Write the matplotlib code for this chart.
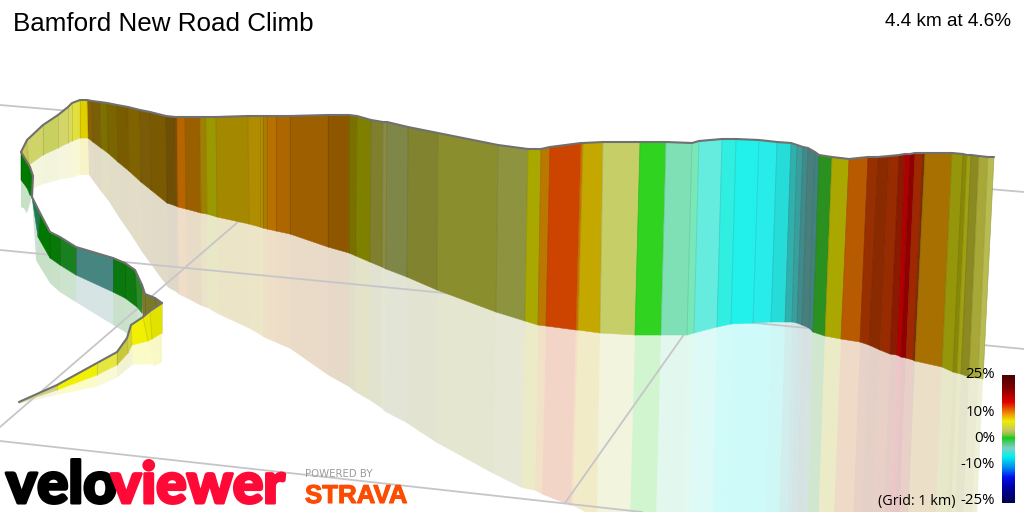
#!/usr/bin/env python3
import numpy as np
import matplotlib
matplotlib.use('Agg')
import matplotlib.pyplot as plt
from matplotlib.colors import LinearSegmentedColormap
from matplotlib.patches import Polygon
import matplotlib.patheffects as pe

WIDTH, HEIGHT = 1024, 512

TITLE = 'Bamford New Road Climb'
SUMMARY = '4.4 km at 4.6%'

# Ribbon sections, listed as wall edges: top of the wall and foot of the wall
main_xt = [87, 92, 100, 107, 117, 128, 140, 150, 166, 175, 177, 185, 200, 206, 216, 248, 260, 263, 267, 276,
           290, 328, 349, 357, 371, 383, 387, 408, 438, 498, 528, 541, 550, 581, 583, 603, 640, 666, 692, 699,
           722, 736, 759, 777, 791, 797, 803, 808, 815, 819, 832, 849, 868, 878, 889, 899, 905, 910, 915, 923,
           925, 952, 963, 967, 971, 979, 988, 994]
main_yt = [100, 101, 102, 103, 105, 107, 110, 112, 116, 117, 117, 117, 117, 117, 117, 116, 116, 116, 116, 116,
           116, 115, 115, 116, 120, 122, 122, 127, 133, 145, 149, 149, 147, 143, 143, 142, 142, 142, 143, 141,
           139, 139, 140, 142, 143, 145, 147, 148, 152, 155, 157, 159, 157, 157, 156, 155, 154, 154, 153, 153,
           153, 153, 154, 155, 155, 156, 157, 157]
main_xb = [88, 93, 101, 108, 118, 129, 141, 151, 167, 176, 178, 186, 201, 207, 217, 249, 260, 263, 267, 276,
           290, 328, 349, 356, 370, 382, 386, 407, 437, 496, 525, 538, 546, 576, 578, 600, 635, 661, 687, 694,
           717, 731, 753, 771, 785, 792, 797, 802, 809, 813, 825, 841, 860, 869, 880, 890, 897, 901, 906, 913,
           915, 942, 953, 957, 961, 969, 978, 983]
main_yb = [138, 142, 148, 153, 162, 171, 182, 190, 203, 206, 207, 209, 213, 214, 217, 224, 227, 228, 229, 231,
           234, 247, 253, 256, 262, 267, 269, 277, 290, 312, 321, 325, 326, 330, 330, 333, 335, 335, 335, 333,
           327, 324, 323, 322, 322, 322, 323, 325, 328, 332, 336, 339, 342, 345, 350, 354, 355, 357, 358, 360,
           361, 367, 372, 373, 374, 377, 378, 379]
main_colors = ['#8a6000', '#7a5e08', '#7e7000', '#7a6500', '#7a5c00', '#806200', '#7a5c08', '#7a5a00', '#6e4f05',
               '#805000', '#b86500', '#9a6000', '#a08000', '#9a9a00', '#a48800', '#b08c00', '#b09000', '#aa7c00',
               '#b87000', '#ad6600', '#9e5f00', '#8f5600', '#7a7000', '#808000', '#7f7f2e', '#8b8b3f', '#7f8748',
               '#82832f', '#8b8e2c', '#8e9340', '#a8a800', '#bb7800', '#cc4400', '#d07000', '#c4a800', '#c6ce68',
               '#30d420', '#7fe0b5', '#78e8b8', '#66ecdf', '#30eee0', '#22f0ea', '#28ecea', '#25dcd8', '#30b0ac',
               '#389f9c', '#3f8a8a', '#487f7d', '#41827f', '#2a9020', '#aaa800', '#b85a00', '#982f00', '#8a2a00',
               '#982c00', '#8a1a00', '#b00000', '#900000', '#a02800', '#7a3000', '#a87000', '#96960a', '#888808',
               '#a0a010', '#8a8a20', '#a8a838', '#b8bc50']

shoulder_xt = [21, 27, 43, 58, 68, 72, 80, 87]
shoulder_yt = [152, 140, 125, 115, 107, 103, 100, 100]
shoulder_xb = [21, 29, 43, 58, 68, 72, 80, 88]
shoulder_yb = [152, 165, 155, 148, 143, 141, 138, 138]
shoulder_colors = ['#c8c850', '#d0d468', '#c8d060', '#d2d668', '#d8d860', '#e0e040', '#e0d000']

corner_xt = [21, 30, 33, 32]
corner_yt = [152, 167, 176, 197]
corner_xb = [21, 27, 30, 32]
corner_yb = [180, 188, 195, 197]
corner_colors = ['#007a00', '#007a00', '#107a20']

long_xt = [142, 135, 125, 113, 76, 60, 50, 40, 32]
long_yt = [285, 270, 263, 258, 247, 237, 232, 213, 197]
long_xb = [142, 137, 125, 113, 76, 60, 50, 38, 32]
long_yb = [313, 307, 298, 292, 275, 265, 258, 237, 197]
long_colors = ['#2a8a2a', '#0e7a10', '#0a780e', '#478580', '#1a801f', '#087808', '#007800', '#207a50']

kink_xt = [142, 145, 155, 162]
kink_yt = [285, 294, 298, 303]
kink_xb = [143, 145, 155, 162]
kink_yb = [317, 315, 309, 304]
kink_colors = ['#7a7a2a', '#7a7a2a', '#7a7a2a']

lead_xt = [19, 57, 97, 117, 127, 131, 143, 150, 162]
lead_yt = [402, 385, 363, 352, 338, 325, 317, 311, 303]
lead_xb = [19, 57, 97, 117, 128, 132, 148, 152, 162]
lead_yb = [403, 390, 375, 365, 353, 345, 341, 339, 333]
lead_colors = ['#d0d080', '#f0f000', '#e6e640', '#c8c83a', '#d0d040', '#f0f000', '#e8e800', '#e2e200']

# Ground grid lines as (x0, y0, x1, y1)
grid_x0 = [0, 0, 0, 0, 565]
grid_y0 = [105, 250, 441, 427, 503]
grid_x1 = [1024, 1024, 642, 260, 690]
grid_y1 = [192, 349, 512, 203, 326]

# Gradient legend
scale_labels = ['25%', '10%', '0%', '-10%', '-25%']
scale_label_y = [374, 413, 438, 464, 501]
scale_pos = [0.0, 0.10, 0.21, 0.27, 0.30, 0.36, 0.43, 0.47, 0.49, 0.53, 0.57, 0.64, 0.72, 0.80, 0.88, 1.0]
scale_colors = ['#4a0000', '#800000', '#e00000', '#e86000', '#f09000', '#eeee00', '#c8c860', '#80c040',
                '#10d010', '#50c880', '#80d0c0', '#00f0f0', '#0090f0', '#0010f0', '#0000a0', '#000050']


def reflection_ratio(x):
    # the ground falls away under the far end of the climb, so the mirrored wall runs longer there
    if x > 690:
        return 1.1
    if 530 < x < 600:
        return 0.94
    return 0.97


def draw_reflection(ax, xt, yt, xb, yb, colors):
    for i, c in enumerate(colors):
        pts = []
        for j in (i, i + 1):
            pts.append((xb[j], yb[j]))
        for j in (i + 1, i):
            # mirror the wall height below its foot
            pts.append((2 * xb[j] - xt[j], yb[j] + reflection_ratio(xt[j]) * (yb[j] - yt[j])))
        ax.add_patch(Polygon(pts, closed=True, facecolor=c, edgecolor='none', alpha=0.22, zorder=2))


def draw_wall(ax, xt, yt, xb, yb, colors, zorder=3):
    for i, c in enumerate(colors):
        pts = [(xt[i], yt[i]), (xt[i + 1], yt[i + 1]), (xb[i + 1], yb[i + 1]), (xb[i], yb[i])]
        ax.add_patch(Polygon(pts, closed=True, facecolor=c, edgecolor=c, linewidth=0.4, zorder=zorder))
    for i in range(len(xt)):
        ax.plot([xt[i], xb[i]], [yt[i], yb[i]], color='black', alpha=0.1, linewidth=0.7, zorder=zorder + 0.1)
    ax.plot(xt, yt, color='#707070', linewidth=1.5, solid_capstyle='round', zorder=zorder + 0.2)


def main():
    plt.rcParams['font.family'] = ['Liberation Sans', 'DejaVu Sans']
    fig = plt.figure(figsize=(WIDTH / 100, HEIGHT / 100), dpi=100)
    ax = fig.add_axes([0, 0, 1, 1])
    ax.set_xlim(0, WIDTH)
    ax.set_ylim(HEIGHT, 0)
    ax.axis('off')

    for x0, y0, x1, y1 in zip(grid_x0, grid_y0, grid_x1, grid_y1):
        ax.plot([x0, x1], [y0, y1], color='#c6c6ca', linewidth=1.3, zorder=2.5)

    sections = [
        (main_xt, main_yt, main_xb, main_yb, main_colors),
        (shoulder_xt, shoulder_yt, shoulder_xb, shoulder_yb, shoulder_colors),
        (corner_xt, corner_yt, corner_xb, corner_yb, corner_colors),
        (long_xt, long_yt, long_xb, long_yb, long_colors),
        (lead_xt, lead_yt, lead_xb, lead_yb, lead_colors),
    ]
    for xt, yt, xb, yb, colors in sections:
        draw_reflection(ax, xt, yt, xb, yb, colors)

    draw_wall(ax, main_xt, main_yt, main_xb, main_yb, main_colors, zorder=3)
    draw_wall(ax, shoulder_xt, shoulder_yt, shoulder_xb, shoulder_yb, shoulder_colors, zorder=3.5)
    draw_wall(ax, corner_xt, corner_yt, corner_xb, corner_yb, corner_colors, zorder=4)
    draw_wall(ax, long_xt, long_yt, long_xb, long_yb, long_colors, zorder=4.5)
    draw_wall(ax, kink_xt, kink_yt, kink_xb, kink_yb, kink_colors, zorder=5)
    draw_wall(ax, lead_xt, lead_yt, lead_xb, lead_yb, lead_colors, zorder=5.5)

    # header
    ax.text(13, 24, TITLE, fontsize=18.7, ha='left', va='center', color='black', zorder=10)
    ax.text(1011, 22, SUMMARY, fontsize=13.7, ha='right', va='center', color='black', zorder=10)

    # gradient legend
    cmap = LinearSegmentedColormap.from_list('grade', list(zip(scale_pos, scale_colors)))
    grad = np.linspace(0, 1, 256).reshape(-1, 1)
    ax.imshow(grad, cmap=cmap, extent=(1002, 1015, 503, 375), aspect='auto', zorder=10)
    ax.set_xlim(0, WIDTH)
    ax.set_ylim(HEIGHT, 0)
    for label, y in zip(scale_labels, scale_label_y):
        ax.text(995, y, label, fontsize=10.8, family=['Open Sans', 'DejaVu Sans'], ha='right', va='center', zorder=10)
    ax.text(956, 501, '(Grid: 1 km)', fontsize=10.4, family=['Open Sans', 'DejaVu Sans'], ha='right', va='center',
            zorder=10)

    # footer logos
    heavy = dict(family=['Lato', 'DejaVu Sans'], fontweight='black', va='baseline', ha='left', zorder=10)
    ax.text(6, 503, 'velo', color='black', fontsize=42,
            path_effects=[pe.withStroke(linewidth=2.2, foreground='black')], **heavy)
    ax.text(111, 503, 'viewer', color='#ff0a37', fontsize=41,
            path_effects=[pe.withStroke(linewidth=2.2, foreground='#ff0a37')], **heavy)
    ax.text(305, 474, 'POWERED BY', fontsize=7.3, color='#9a9a9a', ha='left', va='center', zorder=10,
            family=['DejaVu Sans'])
    ax.text(305, 503, 'STRAVA', fontsize=18.6, color='#fc4c02', fontweight='bold', ha='left', va='baseline',
            zorder=10, path_effects=[pe.withStroke(linewidth=0.8, foreground='#fc4c02')])

    fig.savefig('out.png', dpi=100)
    plt.close(fig)


if __name__ == '__main__':
    main()
